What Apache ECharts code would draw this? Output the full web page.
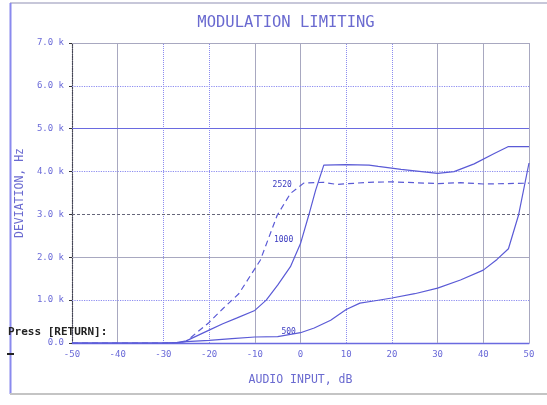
<!DOCTYPE html>
<html><head><meta charset="utf-8">
<script src="https://cdn.jsdelivr.net/npm/echarts@6/dist/echarts.min.js"></script>
<style>html,body{margin:0;padding:0;background:#fff}#c{width:547px;height:405px}</style>
</head><body><div id="c"></div>
<script>
// Data (x in dB, y in kHz)
var x500  = [-50, -30, -27, -25, -20, -15, -10, -5, 0, 3, 6.6, 10, 13, 16, 20, 25, 30, 35, 40, 43, 45.5, 47.7, 50];
var y500  = [0, 0, 0.01, 0.03, 0.06, 0.1, 0.14, 0.15, 0.24, 0.35, 0.53, 0.78, 0.93, 0.98, 1.05, 1.15, 1.28, 1.47, 1.7, 1.95, 2.2, 2.98, 4.2];
var x1000 = [-50, -30, -27, -25, -20, -17, -14, -10, -7.5, -5, -2.2, 0, 1.8, 3.3, 5.1, 10, 15, 17, 22, 30, 33.6, 38, 42.4, 45.4, 50];
var y1000 = [0, 0, 0.01, 0.05, 0.3, 0.45, 0.58, 0.76, 1.0, 1.35, 1.78, 2.32, 2.98, 3.56, 4.15, 4.16, 4.15, 4.12, 4.05, 3.96, 4.0, 4.18, 4.42, 4.58, 4.58];
var x2520 = [-50, -30, -27, -25, -20, -17, -13.5, -8.8, -5.1, -2.2, 0.7, 5, 8, 15, 20, 25, 30, 35, 40, 45, 50];
var y2520 = [0, 0, 0.01, 0.04, 0.48, 0.8, 1.15, 1.93, 2.98, 3.49, 3.73, 3.75, 3.7, 3.75, 3.76, 3.74, 3.72, 3.74, 3.71, 3.72, 3.73];
var xTicks = [-50, -40, -30, -20, -10, 0, 10, 20, 30, 40, 50];
var yTicks = [0, 1, 2, 3, 4, 5, 6, 7];
var seriesNames = ['500', '1000', '2520'];

function pairs(xs, ys) { return xs.map(function (v, i) { return [v, ys[i]]; }); }

var solidC = '#a8a8c0', dotC = '#8c8cf0', darkC = '#66667a', blueC = '#6a6ae0';
var vStyle = { '-40': ['solid', solidC], '-30': ['dotted', dotC], '-20': ['dotted', dotC], '-10': ['solid', solidC],
  '0': ['solid', solidC], '10': ['dotted', dotC], '20': ['dotted', dotC], '30': ['solid', solidC], '40': ['solid', solidC], '50': ['solid', solidC] };
var hStyle = { '1': ['dotted', dotC], '2': ['solid', solidC], '3': ['dashed', darkC], '4': ['dotted', dotC],
  '5': ['solid', blueC], '6': ['dotted', dotC], '7': ['solid', solidC] };

var gridLines = [];
xTicks.forEach(function (v) {
  if (vStyle[v]) gridLines.push({ xAxis: v, lineStyle: { type: vStyle[v][0], color: vStyle[v][1], width: 1 } });
});
yTicks.forEach(function (v) {
  if (hStyle[v]) gridLines.push({ yAxis: v, lineStyle: { type: hStyle[v][0] === 'dashed' ? [3, 2] : hStyle[v][0], color: hStyle[v][1], width: 1.2 } });
});

var mono = 'DejaVu Sans Mono';
var curveC = '#5a5ad6';
function tagPoint(name, coord) {
  return { symbol: 'circle', symbolSize: 0,
    label: { show: true, position: 'inside', formatter: name, fontFamily: mono, fontSize: 8, color: '#3a3ac0',
      backgroundColor: '#fff', padding: [0, 1] },
    data: [{ coord: coord }] };
}
var chart = echarts.init(document.getElementById('c'), null, { renderer: 'canvas' });
chart.setOption({
  animation: false,
  backgroundColor: '#fff',
  title: { text: 'MODULATION LIMITING', left: 281, top: 10, textAlign: 'center',
    textStyle: { fontFamily: mono, fontSize: 15.5, fontWeight: 'normal', color: '#6a6ad0' } },
  grid: { left: 72, right: 18, top: 43, bottom: 62 },
  xAxis: {
    type: 'value', min: -50, max: 50, interval: 10,
    name: 'AUDIO INPUT, dB', nameLocation: 'middle', nameGap: 31,
    nameTextStyle: { fontFamily: mono, fontSize: 11.5, color: '#6a6ad0' },
    axisLine: { show: true, onZero: false, lineStyle: { color: '#6a6ae0', width: 1.3 } },
    axisTick: { show: false },
    axisLabel: { fontFamily: mono, fontSize: 9, color: '#6a6ad8', margin: 7 },
    splitLine: { show: false }
  },
  yAxis: {
    type: 'value', min: 0, max: 7, interval: 1,
    name: 'DEVIATION, Hz', nameLocation: 'middle', nameGap: 43, nameRotate: 90,
    nameTextStyle: { fontFamily: mono, fontSize: 11.5, color: '#6a6ad0' },
    axisLine: { show: true, onZero: false, lineStyle: { color: '#444455', type: 'dotted', width: 1.2 } },
    axisTick: { show: true, length: 3, inside: false, lineStyle: { color: '#333' } },
    axisLabel: { fontFamily: mono, fontSize: 9, color: '#6a6ad8', margin: 8,
      formatter: function (v) { return v === 0 ? '0.0' : v.toFixed(1) + ' k'; } },
    splitLine: { show: false }
  },
  series: [
    { type: 'line', name: 'grid', data: [], silent: true,
      markLine: { silent: true, symbol: 'none', label: { show: false }, data: gridLines } },
    { type: 'line', name: seriesNames[0], data: pairs(x500, y500), symbol: 'none',
      lineStyle: { color: curveC, width: 1.2 }, z: 5, markPoint: tagPoint(seriesNames[0], [-2.6, 0.26]) },
    { type: 'line', name: seriesNames[1], data: pairs(x1000, y1000), symbol: 'none',
      lineStyle: { color: curveC, width: 1.2 }, z: 5, markPoint: tagPoint(seriesNames[1], [-3.7, 2.4]) },
    { type: 'line', name: seriesNames[2], data: pairs(x2520, y2520), symbol: 'none',
      lineStyle: { color: curveC, width: 1.2, type: [6, 4] }, z: 5, markPoint: tagPoint(seriesNames[2], [-4, 3.69]) }
  ],
  graphic: [
    { type: 'line', shape: { x1: 10, y1: 3, x2: 547, y2: 3 }, style: { stroke: '#b4b4cc', lineWidth: 1.5 } },
    { type: 'line', shape: { x1: 10.5, y1: 3, x2: 10.5, y2: 394 }, style: { stroke: '#8a8aee', lineWidth: 2 } },
    { type: 'line', shape: { x1: 10, y1: 394, x2: 547, y2: 394 }, style: { stroke: '#c4c4c4', lineWidth: 2 } },
    { type: 'line', shape: { x1: 7, y1: 354, x2: 14, y2: 354 }, style: { stroke: '#222', lineWidth: 2 } },
    { type: 'text', left: 8, top: 327, z: 10,
      style: { text: 'Press [RETURN]:', font: 'bold 11px "DejaVu Sans Mono"', fill: '#222' } }
  ]
});
</script></body></html>
